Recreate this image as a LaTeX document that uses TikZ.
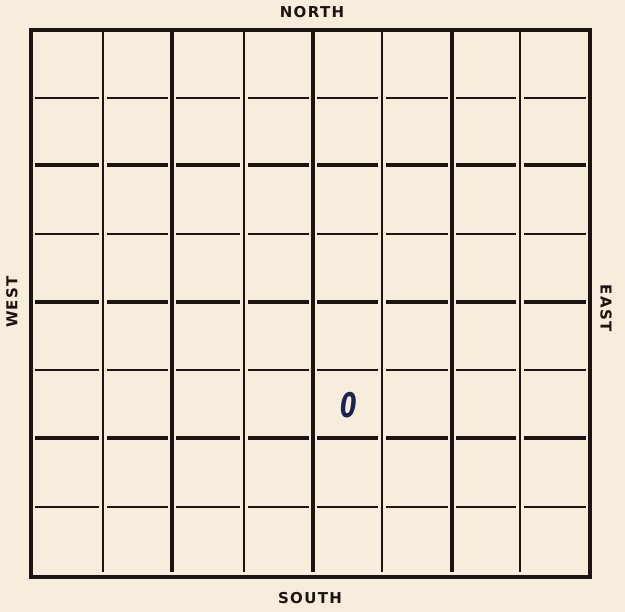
\documentclass[tikz,border=0pt]{standalone}
\usepackage{fontspec}
\setmainfont{DejaVu Sans}
\definecolor{paper}{HTML}{F7EDDC}
\definecolor{ink}{HTML}{1C1412}
\definecolor{pen}{HTML}{1B2352}
\tikzset{
  thinline/.style={ink, line width=1.7pt},
  thickline/.style={ink, line width=3.2pt},
  border/.style={ink, line width=3.4pt},
  compass/.style={ink, font=\addfontfeatures{LetterSpace=9}\bfseries\fontsize{15}{17}\selectfont, inner sep=0pt},
}
\begin{document}
\begin{tikzpicture}[x=1pt,y=-1pt]
\fill[paper] (0,0) rectangle (625,612);
\useasboundingbox (0,0) rectangle (625,612);
\def\xs{{31,103,172,244,313,382,452,520,590}}
% vertical lines
\foreach \x/\k in {103/0,172/1,244/0,313/1,382/0,452/1,520/0}{
  \ifnum\k=1
    \draw[thickline] (\x,31) -- (\x,572);
  \else
    \draw[thinline] (\x,31) -- (\x,572);
  \fi
}
% horizontal segments
\foreach \y/\k in {98/0,165/1,234/0,302/1,370/0,438/1,507/0}{
  \foreach \i in {0,...,7}{
    \pgfmathsetmacro{\xa}{\xs[\i]+4}
    \pgfmathsetmacro{\xb}{\xs[\i+1]-4}
    \ifnum\k=1
      \draw[thickline] (\xa,\y) -- (\xb,\y);
    \else
      \draw[thinline] (\xa,\y) -- (\xb,\y);
    \fi
  }
}
% border
\draw[border] (31,30) rectangle (590,577);
% labels
\node[compass] (north) at (312,12.5) {NORTH};
\node[compass] (south) at (310,598.5) {SOUTH};
\node[compass, rotate=90] (west) at (12,302) {WEST};
\node[compass, rotate=-90] (east) at (606,308) {EAST};
\node[pen, font=\bfseries\itshape\fontsize{34}{36}\selectfont, inner sep=0pt, xscale=0.7] (zero) at (348.5,405.5) {0};
\end{tikzpicture}
\end{document}
